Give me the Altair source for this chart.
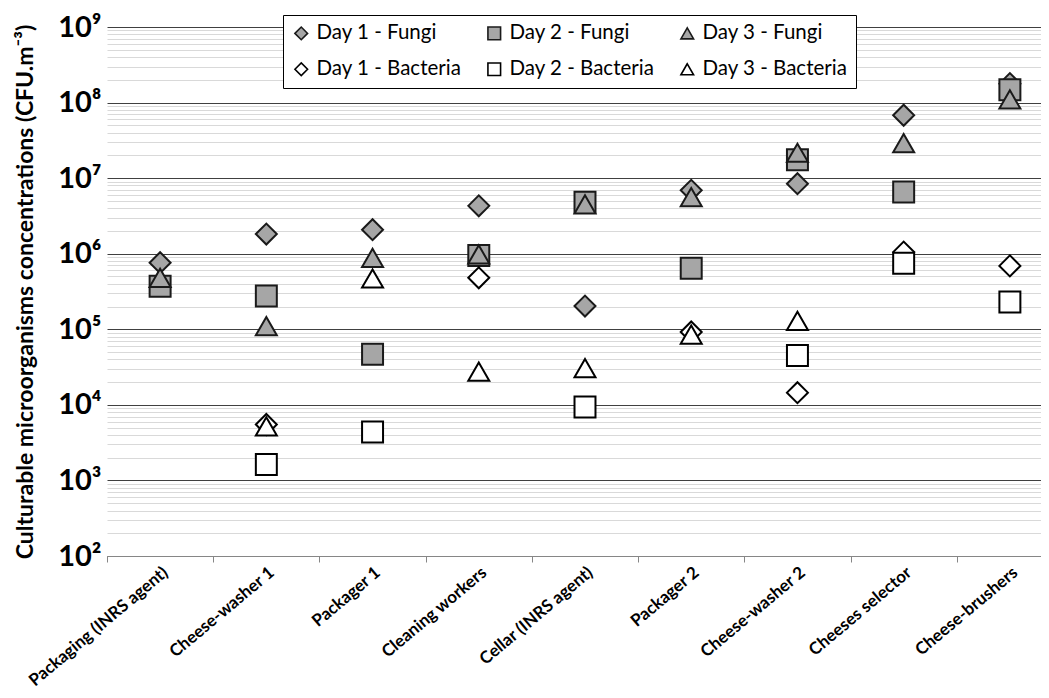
import altair as alt
import pandas as pd

categories = ["Packaging (INRS agent)", "Cheese-washer 1", "Packager 1", "Cleaning workers",
              "Cellar (INRS agent)", "Packager 2", "Cheese-washer 2", "Cheeses selector",
              "Cheese-brushers"]

series_names = ["Day 1 - Fungi", "Day 2 - Fungi", "Day 3 - Fungi",
                "Day 1 - Bacteria", "Day 2 - Bacteria", "Day 3 - Bacteria"]

d1_fungi = [7.6e5, 1.82e6, 2.08e6, 4.3e6, 2.03e5, 6.9e6, 8.45e6, 6.8e7, 1.78e8]
d2_fungi = [3.7e5, 2.75e5, 4.66e4, 9.5e5, 4.8e6, 6.4e5, 1.75e7, 6.55e6, 1.48e8]
d3_fungi = [4.8e5, 1.1e5, 8.8e5, 9.8e5, 4.5e6, 5.6e6, 2.17e7, 2.9e7, 1.1e8]
d1_bact = [None, 5.5e3, None, 4.8e5, None, 9.2e4, 1.45e4, 1.05e6, 6.9e5]
d2_bact = [None, 1.63e3, 4.37e3, None, 9.4e3, None, 4.5e4, 7.5e5, 2.3e5]
d3_bact = [None, 5.2e3, 4.7e5, 2.75e4, 3.07e4, 8.5e4, 1.29e5, None, None]

all_series = [d1_fungi, d2_fungi, d3_fungi, d1_bact, d2_bact, d3_bact]

major_ticks = [1e2, 1e3, 1e4, 1e5, 1e6, 1e7, 1e8, 1e9]
minor_ticks = [k * 10.0 ** e for e in range(2, 9) for k in range(2, 10)]

rows = []
idx = 0
for name, vals in zip(series_names, all_series):
    for cat, v in zip(categories, vals):
        if v is not None:
            rows.append({"Position": cat, "Series": name, "Value": v, "idx": idx})
            idx += 1
df = pd.DataFrame(rows)

shape_range = ["diamond", "square", "triangle-up", "diamond", "square", "triangle-up"]
fill_range = ["#a6a6a6", "#a6a6a6", "#a6a6a6", "#ffffff", "#ffffff", "#ffffff"]
stroke_range = ["#1a1a1a", "#1a1a1a", "#1a1a1a", "#000000", "#000000", "#000000"]

major_test = "abs(log(datum.value)/LN10 - round(log(datum.value)/LN10)) < 0.001"
sup = "['\u2070','\u00b9','\u00b2','\u00b3','\u2074','\u2075','\u2076','\u2077','\u2078','\u2079']"
label_expr = f"({major_test}) ? '10' + {sup}[round(log(datum.value)/LN10)] : ''"

legend_common = dict(
    orient="none", legendX=176, legendY=-12, columns=3, direction="horizontal",
    strokeColor="black", fillColor="white", padding=8,
    symbolSize=160, symbolStrokeWidth=1.6,
    labelFont="Lato", labelFontSize=20.5, labelColor="black", labelOffset=5,
    columnPadding=22, rowPadding=15,
)

chart = alt.Chart(df).mark_point(
    filled=True, opacity=1, strokeWidth=2, size=440
).encode(
    x=alt.X("Position:N", sort=categories,
            scale=alt.Scale(type="band", domain=categories, range=[0, 956],
                            paddingInner=0, paddingOuter=0),
            axis=alt.Axis(title=None, labelAngle=-40, tickBand="extent",
                          domainColor="#868686", tickColor="#868686", tickSize=6,
                          labelFont="Lato", labelFontSize=17, labelFontWeight="bold",
                          labelColor="black", labelPadding=2, labelLimit=300, grid=False)),
    y=alt.Y("Value:Q",
            scale=alt.Scale(type="log", domain=[1e2, 1e9]),
            axis=alt.Axis(values=major_ticks + minor_ticks,
                          title="Culturable microorganisms concentrations (CFU.m\u207b\u00b3)",
                          titleFont="Lato", titleFontSize=23, titleFontWeight="bold",
                          titleColor="black", titlePadding=20,
                          labelExpr=label_expr, labelFont="Lato", labelFontSize=29,
                          labelFontWeight="bold", labelColor="black", labelOverlap=False,
                          labelPadding=6, ticks=False, domain=False, grid=True,
                          gridColor={"condition": {"test": major_test, "value": "#404040"},
                                     "value": "#d9d9d9"},
                          gridOpacity=1, gridWidth=1)),
    shape=alt.Shape("Series:N", scale=alt.Scale(domain=series_names, range=shape_range),
                    title="", legend=alt.Legend(**legend_common)),
    fill=alt.Fill("Series:N", scale=alt.Scale(domain=series_names, range=fill_range),
                  title="", legend=alt.Legend(**legend_common)),
    stroke=alt.Stroke("Series:N", scale=alt.Scale(domain=series_names, range=stroke_range),
                      title="", legend=alt.Legend(**legend_common)),
    order=alt.Order("idx:Q"),
).properties(
    width=934, height=529,
    autosize=alt.AutoSizeParams(type="none"),
    padding={"left": 99, "top": 19, "right": 0, "bottom": 142},
).configure_view(stroke=None)

chart.save("out.html", embed_options={"renderer": "svg", "actions": False})
